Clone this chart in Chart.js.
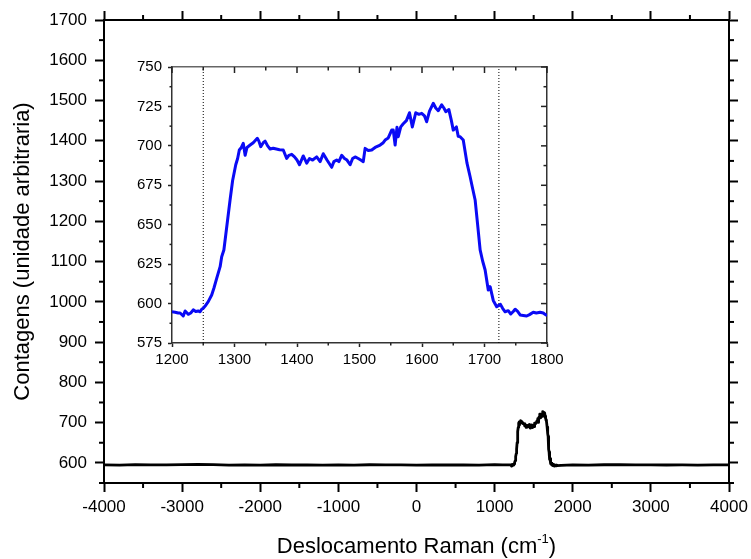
<!DOCTYPE html>
<html>
<head>
<meta charset="utf-8">
<script src="https://cdn.jsdelivr.net/npm/chart.js@4.4.1/dist/chart.umd.min.js"></script>
<style>
  body { margin: 0; background: #fff; }
  #wrap { position: relative; width: 751px; height: 559px; }
  #main { position: absolute; left: 0; top: 0; }
  #inset { position: absolute; left: 120px; top: 57px; }
</style>
</head>
<body>
<div id="wrap">
  <canvas id="main" width="751" height="559"></canvas>
  <canvas id="inset" width="460" height="330"></canvas>
</div>
<script>
// spectrum, left flat part (cm-1 / counts)
const lowShift = [-4000, -3800, -3600, -3400, -3200, -3000, -2800, -2600, -2400, -2200, -2000, -1800, -1600,
  -1400, -1200, -1000, -800, -600, -400, -200, 0, 200, 400, 600, 800, 1000, 1100];
const lowCounts = [595, 594.5, 595.5, 594.8, 595.2, 595.6, 596.2, 595.4, 594.6, 595, 594.4, 595.3, 594.7,
  595.1, 594.5, 595, 594.6, 595.3, 594.8, 595, 594.5, 595.2, 594.7, 595.1, 594.6, 595.4, 594.8];

// band region (same data as the zoomed inset)
const bandShift = [1200, 1205, 1210, 1213, 1218, 1221, 1226, 1230, 1234, 1238, 1242, 1245, 1247.5, 1250, 1253,
  1258, 1263.5, 1267, 1271.5, 1277, 1279.5, 1283, 1288, 1293, 1297, 1302, 1305, 1307.7, 1311, 1314, 1317, 1320,
  1325, 1330, 1336.5, 1339, 1342, 1346, 1349, 1353, 1357, 1362, 1367, 1372, 1378, 1383.5, 1387, 1391.5, 1396,
  1400, 1404, 1410, 1415.5, 1420, 1425, 1431.5, 1437, 1442, 1448, 1455.5, 1459, 1463.5, 1467, 1471.5, 1476,
  1480, 1485, 1489, 1493, 1498, 1502, 1506, 1509, 1514, 1519.5, 1525, 1533, 1538, 1541, 1546, 1551.5, 1554,
  1557, 1560, 1562, 1566, 1570, 1575, 1580, 1584.5, 1590, 1595, 1599.5, 1604, 1607.5, 1612, 1618, 1622, 1626,
  1631.5, 1635, 1638, 1643, 1647, 1650, 1655, 1658, 1661, 1666, 1672, 1677, 1681, 1685, 1689, 1693, 1697, 1701,
  1706, 1709, 1714, 1719.5, 1725.5, 1729, 1733, 1738, 1742, 1746, 1749, 1753, 1757, 1762, 1767.5, 1772, 1778,
  1783, 1789, 1794, 1798, 1800];
const bandCounts = [594.8, 594.5, 594, 594, 592.1, 595.3, 593.2, 594, 596, 595, 595.3, 594.8, 596.4, 597, 598.4,
  601.2, 605.4, 609.7, 616, 623.4, 629.7, 634, 650, 666, 678, 688, 692, 697.4, 699, 701.6, 694, 699,
  700.5, 702, 704.8, 703, 699.5, 702, 703, 700, 698, 698.5, 698, 697.5, 697.4, 692, 694, 694.6, 693,
  691, 688, 693.6, 689, 692, 691, 693, 690, 695, 691, 686.4, 690, 691, 690, 694, 692,
  691, 688, 692, 693, 692, 691, 690, 698.4, 697, 697.4, 699, 700.5, 702, 703.7, 705, 710, 710,
  700.5, 711.8, 705.8, 712, 714, 716, 721, 712, 721, 720, 720.6, 719, 715.3, 722, 727, 724, 722.3,
  726, 724, 721.7, 723, 716, 710, 712, 706, 705.8, 703.7, 689, 680.4, 673, 665.7, 650, 634, 627, 621.3,
  608.6, 610.7, 602, 598, 599.5, 597, 594.8, 595.5, 593.4, 595, 596.4, 595, 592.8, 592.5, 592.1, 593, 594.5,
  594, 594.5, 594, 592.8, 593];

// right flat part
const highShift = [1850, 2000, 2200, 2400, 2600, 2800, 3000, 3200, 3400, 3600, 3800, 4000];
const highCounts = [594, 595, 594.6, 595.3, 595.8, 594.9, 595.2, 594.7, 595, 594.5, 595.1, 594.8];

// dotted markers in the inset
const markerShift = [1250, 1723];

// ticks
const mainXTicks = [-4000, -3000, -2000, -1000, 0, 1000, 2000, 3000, 4000];
const mainXMinor = [-3500, -2500, -1500, -500, 500, 1500, 2500, 3500];
const mainYTicks = [600, 700, 800, 900, 1000, 1100, 1200, 1300, 1400, 1500, 1600, 1700];
const mainYMinor = [550, 650, 750, 850, 950, 1050, 1150, 1250, 1350, 1450, 1550, 1650];
const insetXTicks = [1200, 1300, 1400, 1500, 1600, 1700, 1800];
const insetXMinor = [1250, 1350, 1450, 1550, 1650, 1750];
const insetYTicks = [575, 600, 625, 650, 675, 700, 725, 750];
const insetYMinor = [587.5, 612.5, 637.5, 662.5, 687.5, 712.5, 737.5];

const FONT = "'Liberation Sans', Arial, sans-serif";

function zip(xs, ys) {
  return xs.map((x, i) => ({ x: x, y: ys[i] }));
}

function setTicks(list) {
  return function (s) { s.ticks = list.map(v => ({ value: v })); };
}

// fixed box size, no extra room for the end labels
function fixSize(prop, size) {
  return function (s) {
    s[prop] = size;
    s.paddingLeft = s.paddingRight = s.paddingTop = s.paddingBottom = 0;
  };
}

// minor ticks and inward mirror ticks
function tickMarks(marks, color) {
  return {
    id: 'tickMarks',
    afterDraw(chart) {
      const ctx = chart.ctx;
      ctx.save();
      ctx.strokeStyle = color;
      marks.forEach(m => {
        const s = chart.scales[m.axis];
        const edge = { bottom: [s.top, 1], top: [s.bottom, -1], left: [s.right, -1], right: [s.left, 1] }[s.position];
        const sign = edge[1] * (m.inward ? -1 : 1);
        ctx.lineWidth = m.width;
        m.values.forEach(v => {
          const p = s.getPixelForValue(v);
          ctx.beginPath();
          if (s.isHorizontal()) {
            ctx.moveTo(p, edge[0]);
            ctx.lineTo(p, edge[0] + sign * m.len);
          } else {
            ctx.moveTo(edge[0], p);
            ctx.lineTo(edge[0] + sign * m.len, p);
          }
          ctx.stroke();
        });
      });
      ctx.restore();
    }
  };
}

const xTitle = {
  id: 'xTitle',
  afterDraw(chart) {
    const ctx = chart.ctx;
    const a = chart.chartArea;
    const main = 'Deslocamento Raman (cm', sup = '-1', end = ')';
    ctx.save();
    ctx.fillStyle = '#000';
    ctx.textBaseline = 'alphabetic';
    ctx.font = '22px ' + FONT;
    const w1 = ctx.measureText(main).width, w3 = ctx.measureText(end).width;
    ctx.font = '13px ' + FONT;
    const w2 = ctx.measureText(sup).width;
    let x = (a.left + a.right) / 2 - (w1 + w2 + w3) / 2;
    const base = 553;
    ctx.font = '22px ' + FONT;
    ctx.fillText(main, x, base);
    x += w1;
    ctx.font = '13px ' + FONT;
    ctx.fillText(sup, x, base - 10);
    x += w2;
    ctx.font = '22px ' + FONT;
    ctx.fillText(end, x, base);
    ctx.restore();
  }
};

Chart.defaults.font.family = FONT;
Chart.defaults.color = '#000';

const mainData = zip(lowShift, lowCounts).concat(zip(bandShift, bandCounts), zip(highShift, highCounts));

const outerGrid = { display: true, drawOnChartArea: false, drawTicks: true, tickLength: 9, tickWidth: 2, tickColor: '#000' };
const outerBorder = { display: true, color: '#000', width: 2 };

new Chart(document.getElementById('main'), {
  type: 'line',
  data: {
    datasets: [{
      data: mainData,
      borderColor: '#000',
      borderWidth: 2.8,
      borderJoinStyle: 'round',
      pointRadius: 0,
      tension: 0
    }]
  },
  options: {
    responsive: false,
    animation: false,
    devicePixelRatio: 1,
    layout: { padding: 0 },
    plugins: { legend: { display: false }, tooltip: { enabled: false } },
    scales: {
      x: {
        type: 'linear', position: 'bottom', min: -4000, max: 4000,
        afterBuildTicks: setTicks(mainXTicks),
        afterFit: fixSize('height', 76),
        ticks: { font: { size: 17 }, padding: 5, maxRotation: 0, callback: v => String(v) },
        grid: outerGrid, border: outerBorder
      },
      x2: {
        type: 'linear', position: 'top', min: -4000, max: 4000,
        afterBuildTicks: setTicks(mainXTicks),
        afterFit: fixSize('height', 20),
        ticks: { display: false },
        grid: outerGrid, border: outerBorder
      },
      y: {
        type: 'linear', position: 'left', min: 550, max: 1700,
        afterBuildTicks: setTicks(mainYTicks),
        afterFit: fixSize('width', 104),
        ticks: { font: { size: 17 }, padding: 8, callback: v => String(v) },
        title: { display: true, text: 'Contagens (unidade arbitraria)', font: { size: 22 }, padding: { top: 10, bottom: 0 } },
        grid: outerGrid, border: outerBorder
      },
      y2: {
        type: 'linear', position: 'right', min: 550, max: 1700,
        afterBuildTicks: setTicks(mainYTicks),
        afterFit: fixSize('width', 22),
        ticks: { display: false },
        grid: outerGrid, border: outerBorder
      }
    }
  },
  plugins: [tickMarks([
    { axis: 'x', values: mainXMinor, len: 5, width: 2 },
    { axis: 'x2', values: mainXMinor, len: 5, width: 2 },
    { axis: 'y', values: mainYMinor, len: 5, width: 2 },
    { axis: 'y2', values: mainYMinor, len: 5, width: 2 }
  ], '#000'), xTitle]
});

const insetGrid = { display: true, drawOnChartArea: false, drawTicks: true, tickLength: 4, tickWidth: 1.5, tickColor: '#222' };
const insetBorder = { display: true, color: '#333', width: 1.5 };

new Chart(document.getElementById('inset'), {
  type: 'line',
  data: {
    datasets: [{
      data: zip(bandShift, bandCounts),
      borderColor: '#0a0af5',
      borderWidth: 3,
      borderJoinStyle: 'round',
      pointRadius: 0,
      tension: 0
    }].concat(markerShift.map(m => ({
      data: [{ x: m, y: 575 }, { x: m, y: 750 }],
      borderColor: '#000',
      borderWidth: 1,
      borderDash: [1, 2],
      pointRadius: 0
    })))
  },
  options: {
    responsive: false,
    animation: false,
    devicePixelRatio: 1,
    layout: { padding: 0 },
    plugins: { legend: { display: false }, tooltip: { enabled: false } },
    scales: {
      x: {
        type: 'linear', position: 'bottom', min: 1200, max: 1800,
        afterBuildTicks: setTicks(insetXTicks),
        afterFit: fixSize('height', 44),
        ticks: { font: { size: 15 }, padding: 4, maxRotation: 0, callback: v => String(v) },
        grid: insetGrid, border: insetBorder
      },
      x2: {
        type: 'linear', position: 'top', min: 1200, max: 1800,
        afterBuildTicks: setTicks(insetXTicks),
        afterFit: fixSize('height', 10),
        ticks: { display: false },
        grid: { display: false }, border: { display: true, color: '#666', width: 1.5 }
      },
      y: {
        type: 'linear', position: 'left', min: 575, max: 750,
        afterBuildTicks: setTicks(insetYTicks),
        afterFit: fixSize('width', 52),
        ticks: { font: { size: 15 }, padding: 6, callback: v => String(v) },
        grid: insetGrid, border: insetBorder
      },
      y2: {
        type: 'linear', position: 'right', min: 575, max: 750,
        afterBuildTicks: setTicks(insetYTicks),
        afterFit: fixSize('width', 33),
        ticks: { display: false },
        grid: { display: false }, border: insetBorder
      }
    }
  },
  plugins: [tickMarks([
    { axis: 'x', values: insetXMinor, len: 2.5, width: 1.5 },
    { axis: 'y', values: insetYMinor, len: 2.5, width: 1.5 },
    { axis: 'x2', values: insetXTicks, len: 6, width: 1.5, inward: true },
    { axis: 'x2', values: insetXMinor, len: 3.5, width: 1.5, inward: true },
    { axis: 'y2', values: insetYTicks, len: 6, width: 1.5, inward: true },
    { axis: 'y2', values: insetYMinor, len: 3.5, width: 1.5, inward: true }
  ], '#222')]
});
</script>
</body>
</html>
